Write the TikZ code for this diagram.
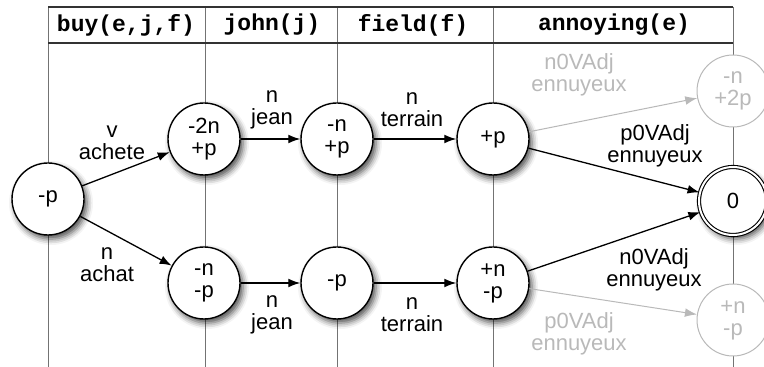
\documentclass[tikz,border=0pt]{standalone}
\usepackage{fontspec}
\setmainfont{Liberation Sans}
\newfontfamily\hdrfont{Liberation Mono}
\usetikzlibrary{arrows.meta,shadows.blur}
\definecolor{lightg}{RGB}{185,185,185}
\definecolor{tblg}{RGB}{115,115,115}
\definecolor{hdrline}{RGB}{50,50,50}
\begin{document}
\begin{tikzpicture}[x=0.5pt,y=-0.5pt,
  txt/.style={font=\fontsize{11}{11}\selectfont},
  st/.style={circle,draw=black,line width=0.7pt,fill=white,minimum size=36pt,inner sep=0pt,align=center,txt,
    blur shadow={shadow xshift=1.5pt,shadow yshift=-2pt,shadow blur radius=3pt,shadow opacity=70}},
  gst/.style={circle,draw=lightg,line width=0.5pt,fill=white,minimum size=36pt,inner sep=0pt,align=center,text=lightg,txt},
  fin/.style={st,double,double distance=1pt,line width=0.55pt,minimum size=34pt},
  lbl/.style={align=center,inner sep=0pt,txt},
  glbl/.style={lbl,text=lightg},
  arr/.style={-{Latex[length=6pt,width=4.4pt]},line width=0.65pt},
  garr/.style={-{Latex[length=6pt,width=4.4pt]},line width=0.5pt,draw=lightg},
  hdrtxt/.style={inner sep=0pt,font=\hdrfont\bfseries\fontsize{11.5}{11.5}\selectfont},
  tline/.style={draw=tblg,line width=0.5pt},
  hline/.style={draw=hdrline,line width=0.55pt}]
\useasboundingbox (0,0) rectangle (764,367);
% table
\coordinate (c0t) at (48,7);   \coordinate (c0b) at (48,367);
\coordinate (c1t) at (205,7);  \coordinate (c1b) at (205,367);
\coordinate (c2t) at (337,7);  \coordinate (c2b) at (337,367);
\coordinate (c3t) at (493,7);  \coordinate (c3b) at (493,367);
\coordinate (c4t) at (733,7);  \coordinate (c4b) at (733,367);
\coordinate (h0) at (48,43);   \coordinate (h4) at (733,43);
\draw[tline] (c0t) -- (c0b);
\draw[tline] (c1t) -- (c1b);
\draw[tline] (c2t) -- (c2b);
\draw[tline] (c3t) -- (c3b);
\draw[tline] (c4t) -- (c4b);
\draw[hline] (c0t) -- (c4t);
\draw[hline] (h0) -- (h4);
\node[hdrtxt] (hbuy) at (126,25) {buy(e,j,f)};
\node[hdrtxt] (hjohn) at (272,25) {john(j)};
\node[hdrtxt] (hfield) at (413,25) {field(f)};
\node[hdrtxt] (hann) at (614,25) {annoying(e)};
% states
\node[st] (s) at (48,199) {-p};
\node[st] (a1) at (204,139) {-2n\\+p};
\node[st] (a2) at (337,139) {-n\\+p};
\node[st] (a3) at (493,139) {+p};
\node[gst] (g1) at (733,91) {-n\\+2p};
\node[fin] (f) at (733,201) {0};
\node[st] (b1) at (204,283) {-n\\-p};
\node[st] (b2) at (337,283) {-p};
\node[st] (b3) at (493,283) {+n\\-p};
\node[gst] (g2) at (733,320) {+n\\-p};
% transitions
\draw[arr] (s) -- (a1);
\draw[arr] (s) -- (b1);
\draw[arr] (a1) -- (a2);
\draw[arr] (b1) -- (b2);
\draw[arr] (a2) -- (a3);
\draw[arr] (b2) -- (b3);
\draw[garr] (a3) -- (g1);
\draw[arr] (a3) -- (f);
\draw[arr] (b3) -- (f);
\draw[garr] (b3) -- (g2);
% labels
\node[lbl] (l1) at (112,143) {v\\achete};
\node[lbl] (l2) at (107,265) {n\\achat};
\node[lbl] (l3) at (272,110) {n\\jean};
\node[lbl] (l4) at (272,315) {n\\jean};
\node[lbl] (l5) at (412,110) {n\\terrain};
\node[lbl] (l6) at (412,315) {n\\terrain};
\node[glbl] (l7) at (579,75) {n0VAdj\\ennuyeux};
\node[lbl] (l8) at (655,146) {p0VAdj\\ennuyeux};
\node[lbl] (l9) at (654,270) {n0VAdj\\ennuyeux};
\node[glbl] (l10) at (579,334) {p0VAdj\\ennuyeux};
\end{tikzpicture}
\end{document}
